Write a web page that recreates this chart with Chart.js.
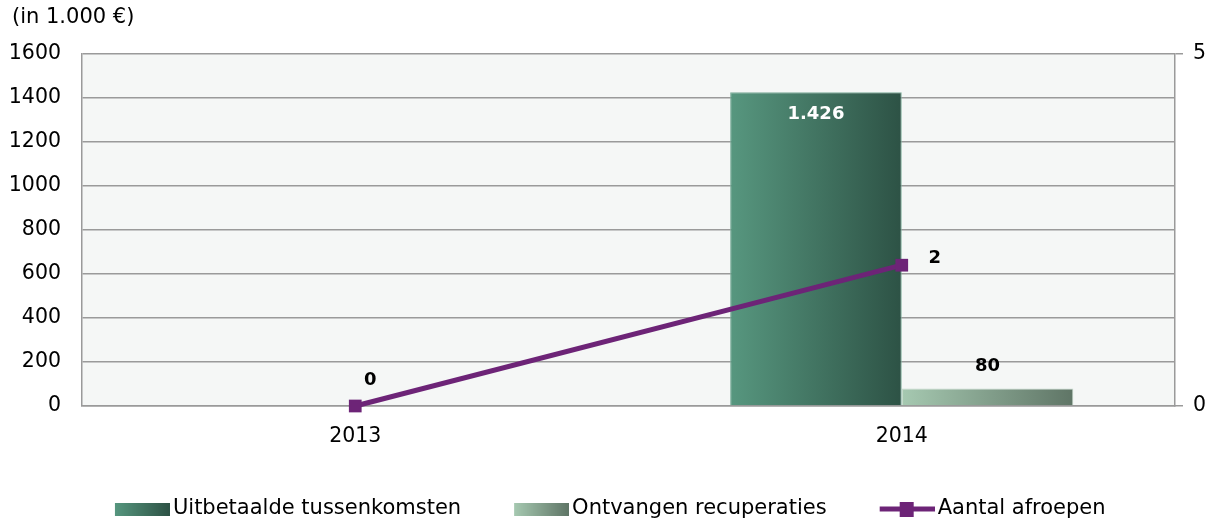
<!DOCTYPE html>
<html>
<head>
<meta charset="utf-8">
<script src="https://cdn.jsdelivr.net/npm/chart.js@4"></script>
<style>
  html, body { margin: 0; padding: 0; background: #fff; }
  canvas { display: block; }
</style>
</head>
<body>
<canvas id="chart" width="1215" height="519"></canvas>
<script>
// values
const years = ['2013', '2014'];
const uitbetaald = [0, 1426];      // Uitbetaalde tussenkomsten (in 1.000 €)
const recuperaties = [0, 80];      // Ontvangen recuperaties (in 1.000 €)
const afroepen = [0, 2];           // Aantal afroepen (right axis)
const unitLabel = '(in 1.000 €)';

const FONT = 'DejaVu Sans, Verdana, sans-serif';
const PURPLE = '#6d2477';
const GRID = '#9a9a9a';
const TICK_FONT = { family: FONT, size: 20.5 };

const barGradients = [
  ['#57977f', '#2d5245'],
  ['#a6c9b1', '#5f7566'],
];

// number format as in the reference: 1.426
const fmt = v => String(v).replace(/\B(?=(\d{3})+(?!\d))/g, '.');

// legend swatches on small canvases (left margin keeps the swatch close to its text)
function swatch(colors) {
  const c = document.createElement('canvas');
  c.width = 68; c.height = 13;
  const x = c.getContext('2d');
  const g = x.createLinearGradient(13, 0, 68, 0);
  g.addColorStop(0, colors[0]);
  g.addColorStop(1, colors[1]);
  x.fillStyle = g;
  x.fillRect(13, 0, 55, 13);
  return c;
}
function lineSwatch() {
  const c = document.createElement('canvas');
  c.width = 68; c.height = 15;
  const x = c.getContext('2d');
  x.fillStyle = PURPLE;
  x.fillRect(13, 5, 55, 5);
  x.fillRect(33, 0, 14, 15);
  return c;
}
const legendIcons = [swatch(barGradients[0]), swatch(barGradients[1]), lineSwatch()];

const plotBg = {
  id: 'plotBg',
  beforeDraw(chart) {
    const { ctx, chartArea: a } = chart;
    ctx.save();
    ctx.fillStyle = '#f5f7f6';
    ctx.fillRect(a.left, a.top, a.right - a.left, a.bottom - a.top);
    ctx.fillStyle = '#000';
    ctx.font = '21px ' + FONT;
    ctx.textBaseline = 'middle';
    ctx.fillText(unitLabel, 12, 18);
    ctx.restore();
  },
};

// horizontal gradient per bar, based on where the bar ended up
const barFill = {
  id: 'barFill',
  beforeDatasetsDraw(chart) {
    const ctx = chart.ctx;
    chart.data.datasets.forEach((ds, di) => {
      if (ds.type !== 'bar') return;
      const meta = chart.getDatasetMeta(di);
      meta.data.forEach((el, i) => {
        if (!ds.data[i]) return;
        const g = ctx.createLinearGradient(el.x - el.width / 2, 0, el.x + el.width / 2, 0);
        g.addColorStop(0, barGradients[di][0]);
        g.addColorStop(1, barGradients[di][1]);
        el.options.backgroundColor = g;
      });
    });
  },
};

// data labels: [dx, dy, colour] per dataset/index, null = no label
const labelSpots = [
  [null, [0, 22, '#fff']],
  [null, [0, -22, '#000']],
  [[15, -26, '#000'], [33, -7, '#000']],
];
const dataLabels = {
  id: 'dataLabels',
  afterDatasetsDraw(chart) {
    const ctx = chart.ctx;
    ctx.save();
    ctx.font = 'bold 18px ' + FONT;
    ctx.textAlign = 'center';
    ctx.textBaseline = 'middle';
    chart.data.datasets.forEach((ds, di) => {
      const meta = chart.getDatasetMeta(di);
      meta.data.forEach((el, i) => {
        const spot = labelSpots[di][i];
        if (!spot) return;
        ctx.fillStyle = spot[2];
        ctx.fillText(fmt(ds.data[i]), el.x + spot[0], el.y + spot[1]);
      });
    });
    ctx.restore();
  },
};

new Chart(document.getElementById('chart').getContext('2d'), {
  data: {
    labels: years,
    datasets: [
      {
        type: 'bar', label: 'Uitbetaalde tussenkomsten', data: uitbetaald, yAxisID: 'y', order: 1,
        backgroundColor: barGradients[0][0], borderColor: '#7aab98', borderWidth: 1,
        categoryPercentage: 0.628, barPercentage: 1,
      },
      {
        type: 'bar', label: 'Ontvangen recuperaties', data: recuperaties, yAxisID: 'y', order: 2,
        backgroundColor: barGradients[1][0], borderColor: '#c3d8c9', borderWidth: 1,
        categoryPercentage: 0.628, barPercentage: 1,
      },
      {
        type: 'line', label: 'Aantal afroepen', data: afroepen, yAxisID: 'y1', order: 0,
        borderColor: PURPLE, backgroundColor: PURPLE, borderWidth: 5,
        pointStyle: 'rect', pointRadius: 9, pointBorderWidth: 0, pointBackgroundColor: PURPLE,
        tension: 0, clip: false,
      },
    ],
  },
  options: {
    responsive: false, animation: false, devicePixelRatio: 1,
    layout: { padding: { left: 0, right: 0, top: 54, bottom: 0 } },
    plugins: {
      title: { display: false },
      legend: {
        position: 'bottom', maxHeight: 68,
        labels: {
          color: '#000', font: { family: FONT, size: 21 }, padding: 47.5,
          usePointStyle: true, pointStyleWidth: 53, boxHeight: 13,
          sort: (a, b) => a.datasetIndex - b.datasetIndex,
          generateLabels: chart => chart.data.datasets.map((ds, i) => ({
            text: ds.label, datasetIndex: i, pointStyle: legendIcons[i],
            fillStyle: PURPLE, strokeStyle: PURPLE, lineWidth: 0, fontColor: '#000', hidden: false,
          })),
        },
      },
      tooltip: { enabled: false },
    },
    scales: {
      x: {
        grid: { display: false, drawTicks: false },
        border: { color: GRID, width: 1.5 },
        ticks: { color: '#000', font: TICK_FONT, padding: 18 },
        afterFit: s => { s.height = 45; },
      },
      y: {
        position: 'left', min: 0, max: 1600,
        grid: { color: GRID, lineWidth: 1.5, drawTicks: false },
        border: { color: GRID, width: 1.5 },
        ticks: { stepSize: 200, color: '#000', font: TICK_FONT, padding: 21, callback: v => String(v) },
        afterFit: s => { s.width = 82; },
      },
      y1: {
        position: 'right', min: 0, max: 5,
        grid: { drawOnChartArea: false, color: GRID, lineWidth: 1.5, tickLength: 8 },
        border: { color: GRID, width: 1.5 },
        ticks: { stepSize: 5, color: '#000', font: TICK_FONT, padding: 10 },
        afterFit: s => { s.width = 40; },
      },
    },
  },
  plugins: [plotBg, barFill, dataLabels],
});
</script>
</body>
</html>
